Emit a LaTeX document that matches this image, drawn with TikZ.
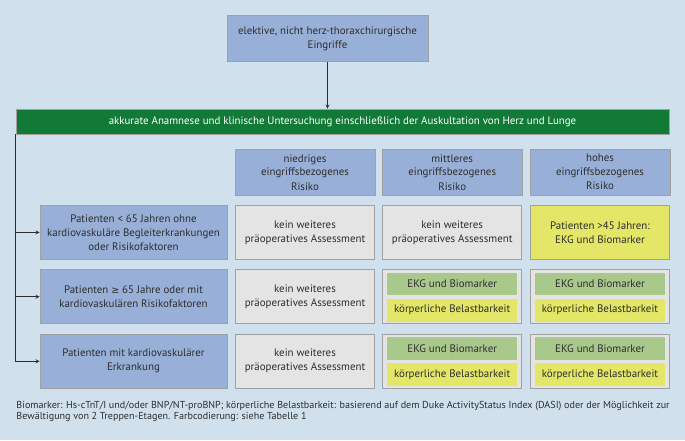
\documentclass[tikz,border=0pt]{standalone}
\usepackage{fontspec}
\setmainfont{PT Sans}
\newfontfamily\symfont{DejaVu Sans}
\usetikzlibrary{positioning}

\definecolor{bg}{RGB}{208,225,237}
\definecolor{riskblue}{RGB}{152,176,216}
\definecolor{dkgreen}{RGB}{17,122,55}
\definecolor{ltgreen}{RGB}{169,200,140}
\definecolor{ltyellow}{RGB}{228,230,104}
\definecolor{ltgray}{RGB}{228,228,228}
\definecolor{edge}{RGB}{160,160,160}
\definecolor{txt}{RGB}{45,45,45}

\begin{document}
\begin{tikzpicture}[x=1pt,y=-1pt,>=stealth,line width=0.8pt,
  box/.style={draw=edge,line width=0.8pt,inner sep=0pt,align=center,text=txt,
    font=\fontsize{10.9}{14}\selectfont},
  hdr/.style={box,fill=riskblue,minimum width=140pt,minimum height=45.7pt},
  pat/.style={box,fill=riskblue,minimum width=187pt,minimum height=53.8pt},
  cell/.style={box,fill=ltgray,minimum width=139pt,minimum height=53.8pt},
  inner/.style={box,draw=none,minimum width=130pt,minimum height=22.5pt}]
\fill[bg] (0,0) rectangle (685,440);
\useasboundingbox (0,0) rectangle (685,440);

\node[box,fill=riskblue,minimum width=201pt,minimum height=46pt] (top) at (327.5,38.8)
  {elektive, nicht herz-thoraxchirurgische\\Eingriffe};
\node[box,fill=dkgreen,text=white,minimum width=653pt,minimum height=25pt] (bar) at (342.5,121.5)
  {akkurate Anamnese und klinische Untersuchung einschließlich der Auskultation von Herz und Lunge};
\draw[->,draw=txt] (top) -- (top |- bar.north);

% risk columns
\foreach \x/\lvl [count=\i] in {305/niedriges,452.2/mittleres,600/hohes}
  \node[hdr] (h-\i) at (\x,172.2) {\lvl\\eingriffsbezogenes\\Risiko};

% patient rows
\foreach \y/\who [count=\i] in {232.4/{Patienten < 65 Jahren ohne\\kardiovaskuläre Begleiterkrankungen\\oder Risikofaktoren},
    296.7/{Patienten {\symfont\fontsize{9.5}{14}\selectfont ≥} 65 Jahre oder mit\\kardiovaskulären Risikofaktoren},
    361.2/{Patienten mit kardiovaskulärer\\Erkrankung}}{
  \node[pat] (p-\i) at (133.5,\y) {\who};
  \draw[->,draw=txt] (bar.south west) |- (p-\i);
  \node[cell] (c-\i-1) at (305,\y) {kein weiteres\\präoperatives Assessment};
  \ifnum \i=1
    \node[cell] (c-\i-2) at (452.2,\y) {kein weiteres\\präoperatives Assessment};
    \node[cell,fill=ltyellow] (c-\i-3) at (600,\y) {Patienten >45 Jahren:\\EKG und Biomarker};
  \else
    \foreach \x [count=\j from 2] in {452.2,600}{
      \node[cell] (c-\i-\j) at (\x,\y) {};
      \node[inner,fill=ltgreen,below=2.7pt of c-\i-\j.north] (e-\i-\j) {EKG und Biomarker};
      \node[inner,fill=ltyellow,minimum height=23.3pt,below=2.7pt of e-\i-\j] (k-\i-\j) {körperliche Belastbarkeit};
    }
  \fi
}

\node[anchor=north west,align=left,inner sep=0pt,text=txt,font=\fontsize{10.1}{11}\selectfont] (note) at (16,401)
  {Biomarker: Hs-cTnT/I und/oder BNP/NT-proBNP; körperliche Belastbarkeit: basierend auf dem Duke ActivityStatus Index (DASI) oder der Möglichkeit zur\\
   Bewältigung von 2 Treppen-Etagen. Farbcodierung: siehe Tabelle 1};
\end{tikzpicture}
\end{document}
